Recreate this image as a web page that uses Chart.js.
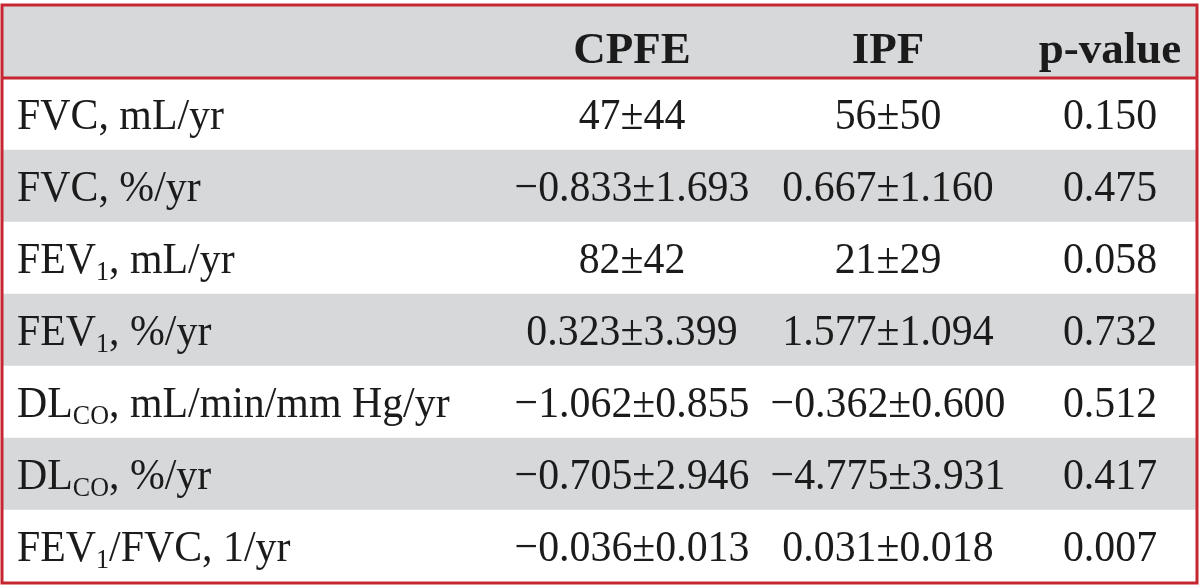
<!DOCTYPE html>
<html>
<head>
<meta charset="utf-8">
<script src="https://cdn.jsdelivr.net/npm/chart.js@4.4.0/dist/chart.umd.min.js"></script>
<style>
  html, body { margin: 0; padding: 0; background: #fff; }
  #wrap { width: 1200px; height: 588px; }
</style>
</head>
<body>
<div id="wrap"><canvas id="tableChart" width="1200" height="588"></canvas></div>
<script>
// table data ({...} = subscript)
const headers = ['', 'CPFE', 'IPF', 'p-value'];
const rowLabels = ['FVC, mL/yr', 'FVC, %/yr', 'FEV{1}, mL/yr', 'FEV{1}, %/yr',
    'DL{CO}, mL/min/mm Hg/yr', 'DL{CO}, %/yr', 'FEV{1}/FVC, 1/yr'];
const rowDecimals = [0, 3, 0, 3, 3, 3, 3];
const cpfeMean = [47, -0.833, 82, 0.323, -1.062, -0.705, -0.036];
const cpfeSd   = [44, 1.693, 42, 3.399, 0.855, 2.946, 0.013];
const ipfMean  = [56, 0.667, 21, 1.577, -0.362, -4.775, 0.031];
const ipfSd    = [50, 1.160, 29, 1.094, 0.600, 3.931, 0.018];
const pValues  = [0.150, 0.475, 0.058, 0.732, 0.512, 0.417, 0.007];

const red = '#c6262f';
const grey = '#d7d8da';
const ink = '#1b1b1b';
const colX = [17, 632, 888, 1110];

function fmt(v, d) {
    return (v < 0 ? '\u2212' : '') + Math.abs(v).toFixed(d);
}

// label with subscripts, slightly condensed
function drawLabel(ctx, text, x0, y) {
    ctx.save();
    ctx.translate(x0, y);
    ctx.scale(0.93, 1);
    ctx.textAlign = 'left';
    let x = 0;
    text.split(/(\{[^}]*\})/).forEach(p => {
        if (!p) return;
        if (p[0] === '{') {
            ctx.font = '28px "Liberation Serif"';
            const s = p.slice(1, -1);
            ctx.fillText(s, x, 7);
            x += ctx.measureText(s).width;
        } else {
            ctx.font = '45px "Liberation Serif"';
            ctx.fillText(p, x, 0);
            x += ctx.measureText(p).width;
        }
    });
    ctx.restore();
}

function drawNum(ctx, text, cx, y) {
    ctx.save();
    ctx.font = '45px "Liberation Serif"';
    ctx.translate(cx, y);
    ctx.scale(0.93, 1);
    ctx.textAlign = 'center';
    ctx.fillText(text, 0, 0);
    ctx.restore();
}

const tableText = {
    id: 'tableText',
    afterDatasetsDraw(chart) {
        const ctx = chart.ctx;
        const y = chart.scales.y;
        const area = chart.chartArea;
        ctx.save();
        ctx.fillStyle = ink;
        ctx.textBaseline = 'alphabetic';

        // header
        const hy = y.getPixelForValue(0) + 21;
        ctx.font = 'bold 45px "Liberation Serif"';
        ctx.textAlign = 'center';
        for (let c = 1; c < headers.length; c++) {
            ctx.fillText(headers[c], colX[c], hy);
        }

        // rows
        rowLabels.forEach((lab, i) => {
            const by = y.getPixelForValue(i + 1) + 15;
            const d = rowDecimals[i];
            drawLabel(ctx, lab, colX[0], by);
            drawNum(ctx, fmt(cpfeMean[i], d) + '\u00b1' + cpfeSd[i].toFixed(d), colX[1], by);
            drawNum(ctx, fmt(ipfMean[i], d) + '\u00b1' + ipfSd[i].toFixed(d), colX[2], by);
            drawNum(ctx, pValues[i].toFixed(3), colX[3], by);
        });

        // header rule and outer frame
        const ly = (y.getPixelForValue(0) + y.getPixelForValue(1)) / 2;
        ctx.strokeStyle = red;
        ctx.lineWidth = 3;
        ctx.beginPath();
        ctx.moveTo(area.left, ly);
        ctx.lineTo(area.right, ly);
        ctx.stroke();
        ctx.strokeRect(area.left - 1, area.top - 1, area.right - area.left + 2, area.bottom - area.top + 2);
        ctx.restore();
    }
};

const rows = ['header'].concat(rowLabels);

new Chart(document.getElementById('tableChart'), {
    type: 'bar',
    data: {
        labels: rows,
        datasets: [{
            data: rows.map(() => [0, 1]),
            backgroundColor: c => c.dataIndex % 2 === 0 ? grey : '#ffffff',
            borderWidth: 0,
            barPercentage: 1,
            categoryPercentage: 1
        }]
    },
    options: {
        indexAxis: 'y',
        responsive: false,
        animation: false,
        devicePixelRatio: 1,
        layout: { padding: { left: 3, right: 4, top: 6, bottom: 6 } },
        scales: {
            x: { display: false, min: 0, max: 1 },
            y: { display: false }
        },
        plugins: {
            legend: { display: false },
            tooltip: { enabled: false }
        }
    },
    plugins: [tableText]
});
</script>
</body>
</html>
